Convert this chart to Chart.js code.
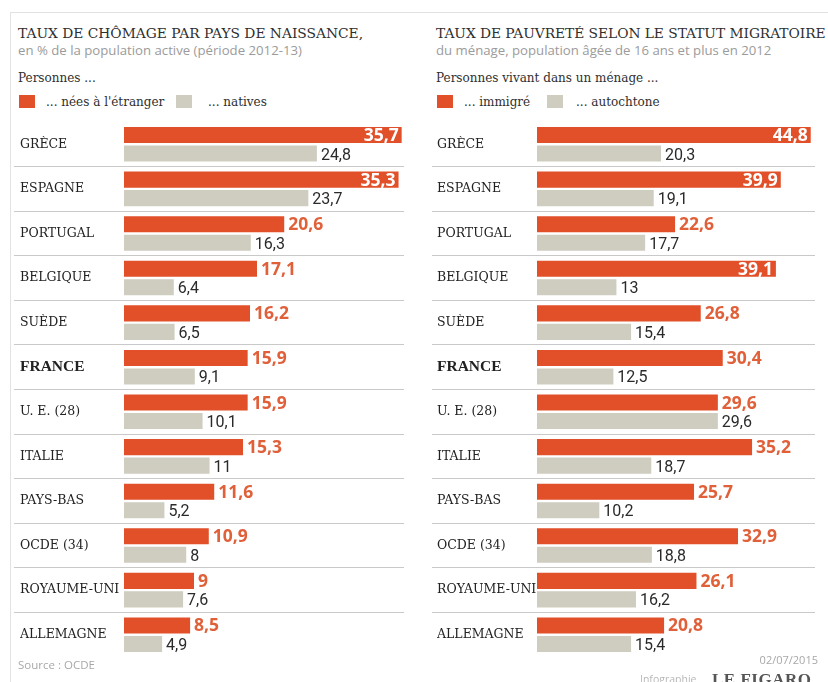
<!DOCTYPE html>
<html lang="fr">
<head>
<meta charset="utf-8">
<script src="https://cdn.jsdelivr.net/npm/chart.js@4"></script>
<style>
  html, body { margin: 0; padding: 0; }
  body { width: 828px; height: 682px; position: relative; overflow: hidden; background: #fff; }
  .cadre { position: absolute; left: 10px; top: 12px; right: -2px; bottom: -2px; border-top: 1px solid #e2e2e2; border-left: 1px solid #e2e2e2; }
  .t { position: absolute; white-space: nowrap; line-height: 1; }
  .titre { font-family: "DejaVu Serif", serif; font-size: 13.8px; color: #2e2e2e; }
  .sous { font-family: "Open Sans", sans-serif; font-size: 13.2px; color: #9b9b9b; }
  .pers { font-family: "DejaVu Serif", serif; font-size: 12px; color: #2e2e2e; }
  .leg { font-family: "DejaVu Serif", serif; font-size: 12px; color: #2e2e2e; }
  .carre { position: absolute; width: 16px; height: 13px; }
  .pied { font-family: "Open Sans", sans-serif; font-size: 11px; color: #a8a8a8; }
  canvas { position: absolute; }
</style>
</head>
<body>
<div class="cadre"></div>

<!-- en-tête gauche -->
<div class="t titre" style="left:18px; top:27px;">TAUX DE CHÔMAGE PAR PAYS DE NAISSANCE,</div>
<div class="t sous" style="left:18px; top:44px;">en % de la population active (période 2012-13)</div>
<div class="t pers" style="left:18px; top:72px;">Personnes ...</div>
<div class="carre" style="left:19px; top:95px; background:#e2502a;"></div>
<div class="t leg" style="left:46px; top:96px;">... nées à l'étranger</div>
<div class="carre" style="left:176px; top:95px; background:#cfcdbf;"></div>
<div class="t leg" style="left:208px; top:96px;">... natives</div>

<!-- en-tête droite -->
<div class="t titre" style="left:436px; top:27px; letter-spacing:-0.05px;">TAUX DE PAUVRETÉ SELON LE STATUT MIGRATOIRE</div>
<div class="t sous" style="left:436px; top:44px;">du ménage, population âgée de 16 ans et plus en 2012</div>
<div class="t pers" style="left:436px; top:72px;">Personnes vivant dans un ménage ...</div>
<div class="carre" style="left:437px; top:95px; background:#e2502a;"></div>
<div class="t leg" style="left:464px; top:96px;">... immigré</div>
<div class="carre" style="left:547px; top:95px; background:#cfcdbf;"></div>
<div class="t leg" style="left:576px; top:96px;">... autochtone</div>

<canvas id="chomage" width="414" height="560" style="left:0; top:110px;"></canvas>
<canvas id="pauvrete" width="414" height="560" style="left:414px; top:110px;"></canvas>

<!-- pied -->
<div class="t pied" style="left:18px; top:659px; font-size:11.5px;">Source : OCDE</div>
<div class="t pied" style="right:10px; top:654px;">02/07/2015</div>
<div class="t pied" style="left:640px; top:674px; font-size:10.5px; color:#b8b8b8;">Infographie</div>
<div class="t" style="left:712px; top:671px; font-family:'Liberation Serif', serif; font-weight:bold; font-size:17px; letter-spacing:0.5px; color:#555;">LE FIGARO</div>

<script>
// Pays (ordre d'affichage)
const pays = ['GRÈCE', 'ESPAGNE', 'PORTUGAL', 'BELGIQUE', 'SUÈDE', 'FRANCE', 'U. E. (28)', 'ITALIE', 'PAYS-BAS', 'OCDE (34)', 'ROYAUME-UNI', 'ALLEMAGNE'];

// Taux de chômage, en % de la population active (2012-13)
const neesEtranger = [35.7, 35.3, 20.6, 17.1, 16.2, 15.9, 15.9, 15.3, 11.6, 10.9, 9, 8.5];
const natives      = [24.8, 23.7, 16.3, 6.4, 6.5, 9.1, 10.1, 11, 5.2, 8, 7.6, 4.9];

// Taux de pauvreté selon le statut migratoire du ménage (2012)
const immigre    = [44.8, 39.9, 22.6, 39.1, 26.8, 30.4, 29.6, 35.2, 25.7, 32.9, 26.1, 20.8];
const autochtone = [20.3, 19.1, 17.7, 13, 15.4, 12.5, 29.6, 18.7, 10.2, 18.8, 16.2, 15.4];

const ORANGE = '#e2502a';
const GRIS = '#cfcdbf';
const ORANGE_TEXTE = '#e0603a';

const virgule = v => String(v).replace('.', ',');

// Valeurs écrites au bout des barres
const etiquettes = {
  id: 'etiquettes',
  afterDatasetsDraw(chart) {
    const { ctx, chartArea } = chart;
    ctx.save();
    chart.data.datasets.forEach((ds, di) => {
      const meta = chart.getDatasetMeta(di);
      meta.data.forEach((bar, i) => {
        const txt = virgule(ds.data[i]);
        if (di === 0) {
          ctx.font = 'bold 17.5px "Open Sans", sans-serif';
          ctx.textBaseline = 'middle';
          const w = ctx.measureText(txt).width;
          if (bar.x + 4 + w > chartArea.right - 6) {
            ctx.fillStyle = '#ffffff';
            ctx.textAlign = 'right';
            ctx.fillText(txt, bar.x - 3, bar.y + 1);
          } else {
            ctx.fillStyle = ORANGE_TEXTE;
            ctx.textAlign = 'left';
            ctx.fillText(txt, bar.x + 4, bar.y + 1);
          }
        } else {
          ctx.font = '16px "Liberation Sans Narrow", "Roboto", sans-serif';
          ctx.textBaseline = 'middle';
          ctx.textAlign = 'left';
          ctx.fillStyle = '#2a2a2a';
          ctx.fillText(txt, bar.x + 4, bar.y + 2);
        }
      });
    });
    ctx.restore();
  }
};

function graphique(id, serieA, serieB, maxX, gauche, largeurAxe, droite, traitGauche) {
  return new Chart(document.getElementById(id), {
    type: 'bar',
    data: {
      labels: pays,
      datasets: [
        { data: serieA, backgroundColor: ORANGE, categoryPercentage: 0.83, barPercentage: 0.87 },
        { data: serieB, backgroundColor: GRIS, categoryPercentage: 0.83, barPercentage: 0.87 }
      ]
    },
    options: {
      indexAxis: 'y',
      responsive: false,
      animation: false,
      events: [],
      layout: { padding: { left: gauche, right: droite, top: 12, bottom: 13 } },
      plugins: { legend: { display: false }, tooltip: { enabled: false } },
      scales: {
        x: { display: false, min: 0, max: maxX },
        y: {
          border: { display: false },
          grid: {
            offset: true,
            drawTicks: true,
            tickLength: traitGauche,
            lineWidth: 1,
            // séparateurs entre les pays seulement, pas au-dessus ni en dessous
            color: c => (c.type !== 'tick' || c.index === 0) ? 'rgba(0,0,0,0)' : '#c9c9c9'
          },
          ticks: {
            autoSkip: false,
            crossAlign: 'far',
            padding: 0,
            color: '#222',
            font: c => (c.tick && c.tick.label === 'FRANCE')
              ? { family: '"Liberation Serif", serif', size: 15.5, weight: 'bold' }
              : { family: '"DejaVu Serif", serif', size: 12.5 }
          },
          afterFit(scale) { scale.width = largeurAxe; }
        }
      }
    },
    plugins: [etiquettes]
  });
}

graphique('chomage', neesEtranger, natives, 36, 20, 104, 10, 110);
graphique('pauvrete', immigre, autochtone, 45.5, 23, 100, 13, 105);
</script>
</body>
</html>
